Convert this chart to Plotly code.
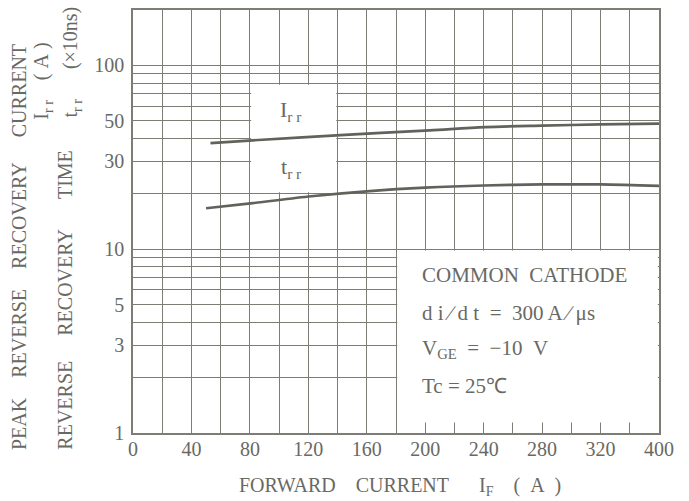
import plotly.graph_objects as go
import math

# ---- data (x in the chart's drawn grid units; the last gridline is labelled "400") ----
x_tickvals = [0, 40, 80, 120, 160, 200, 240, 280, 320, 360]
x_ticktext = ["0", "40", "80", "120", "160", "200", "240", "280", "320", "400"]
x_minor = [20, 60, 100, 140, 180, 220, 260, 300, 340]
y_tickvals = [1, 3, 5, 10, 30, 50, 100]
y_ticktext = ["1", "3", "5", "10", "30", "50", "100"]
y_minor = [2, 4, 6, 7, 8, 9, 20, 40, 60, 70, 80, 90]

irr_x = [53, 82, 142, 203, 241, 280, 320, 360]
irr_y = [37.7, 39.1, 41.7, 44.3, 46.1, 47.0, 47.7, 48.2]
trr_x = [50, 82, 122, 162, 200, 240, 280, 320, 360]
trr_y = [16.7, 17.8, 19.4, 20.7, 21.6, 22.2, 22.5, 22.5, 22.1]

GRID = "rgb(125,125,117)"
TEXT = "rgb(105,105,100)"
CURVE = "rgb(98,98,92)"
FONT = "Liberation Serif"
NB = "\u00a0"

fig = go.Figure()
for xs, ys in ((irr_x, irr_y), (trr_x, trr_y)):
    fig.add_trace(go.Scatter(x=xs, y=ys, mode="lines",
                             line=dict(color=CURVE, width=2.7, shape="spline", smoothing=0.9),
                             showlegend=False, hoverinfo="skip"))

# white areas where the printed grid is interrupted
fig.add_shape(type="rect", xref="x", yref="y", x0=80.9, x1=139.1, y0=20.4, y1=78.5,
              fillcolor="white", line=dict(width=0), layer="between")
fig.add_shape(type="rect", xref="x", yref="y", x0=180.9, x1=359.2, y0=1.14, y1=9.85,
              fillcolor="white", line=dict(width=0), layer="between")

ann = []
def A(size=20, **kw):
    base = dict(showarrow=False, font=dict(family=FONT, size=size, color=TEXT))
    base.update(kw)
    ann.append(base)

# curve labels
A(text="I<sub>r r</sub>", x=108, y=1.752, xref="x", yref="y", size=22)
A(text="t<sub>r r</sub>", x=108, y=1.44, xref="x", yref="y", size=22)

# conditions box
cond = ["COMMON" + NB * 2 + "CATHODE",
        "d i ∕ d t" + NB * 2 + "=" + NB * 2 + "300 A ∕ μs",
        "V<sub>GE</sub>" + NB * 2 + "=" + NB * 2 + "−10" + NB * 2 + "V",
        "Tc = 25℃"]
cond_y = [0.862, 0.652, 0.455, 0.255]
for t, yy in zip(cond, cond_y):
    A(text=t, x=196.5, y=yy, xref="x", yref="y", xanchor="left", yanchor="middle", size=21)

# x-axis title
A(text="FORWARD" + NB * 4 + "CURRENT" + NB * 6 + "I<sub>F</sub>" + NB * 4 + "(" + NB * 2 + "A" + NB * 2 + ")",
  x=0.507, y=-0.127, xref="paper", yref="paper", xanchor="center", yanchor="middle", size=20)

# y-axis titles (two stacked rotated lines)
A(text="PEAK" + NB * 4 + "REVERSE" + NB * 4 + "RECOVERY" + NB * 5 + "CURRENT", textangle=-90,
  x=-0.2167, y=-0.045, xref="paper", yref="paper", xanchor="center", yanchor="bottom", size=20)
A(text="I<sub>r r</sub>" + NB * 4 + "(" + NB + "A" + NB + ")", textangle=-90,
  x=-0.171, y=0.735, xref="paper", yref="paper", xanchor="center", yanchor="bottom", size=20)
A(text="REVERSE" + NB * 5 + "RECOVERY" + NB * 6 + "TIME", textangle=-90,
  x=-0.131, y=-0.045, xref="paper", yref="paper", xanchor="center", yanchor="bottom", size=20)
A(text="t<sub>r r</sub>" + NB * 6 + "(×10ns)", textangle=-90,
  x=-0.117, y=0.741, xref="paper", yref="paper", xanchor="center", yanchor="bottom", size=20)

fig.update_layout(
    width=689, height=501,
    margin=dict(l=133, r=30, t=8, b=68),
    paper_bgcolor="white", plot_bgcolor="white",
    annotations=ann,
    xaxis=dict(range=[0, 360], tickmode="array", tickvals=x_tickvals, ticktext=x_ticktext,
               showgrid=True, gridcolor=GRID, gridwidth=1.4,
               minor=dict(tickmode="array", tickvals=x_minor, showgrid=True, gridcolor=GRID, gridwidth=1.4),
               showline=True, linecolor=GRID, linewidth=1.6, mirror=True,
               ticks="", zeroline=False, ticklabelstandoff=-3,
               tickfont=dict(family=FONT, size=20, color=TEXT)),
    yaxis=dict(type="log", range=[0, math.log10(200)], tickmode="array", tickvals=y_tickvals,
               ticktext=y_ticktext,
               showgrid=True, gridcolor=GRID, gridwidth=1.4,
               minor=dict(tickmode="array", tickvals=y_minor, showgrid=True, gridcolor=GRID, gridwidth=1.4),
               showline=True, linecolor=GRID, linewidth=1.6, mirror=True,
               ticks="", zeroline=False, ticklabelstandoff=3,
               tickfont=dict(family=FONT, size=20, color=TEXT)),
)

fig.write_html("out.html")
